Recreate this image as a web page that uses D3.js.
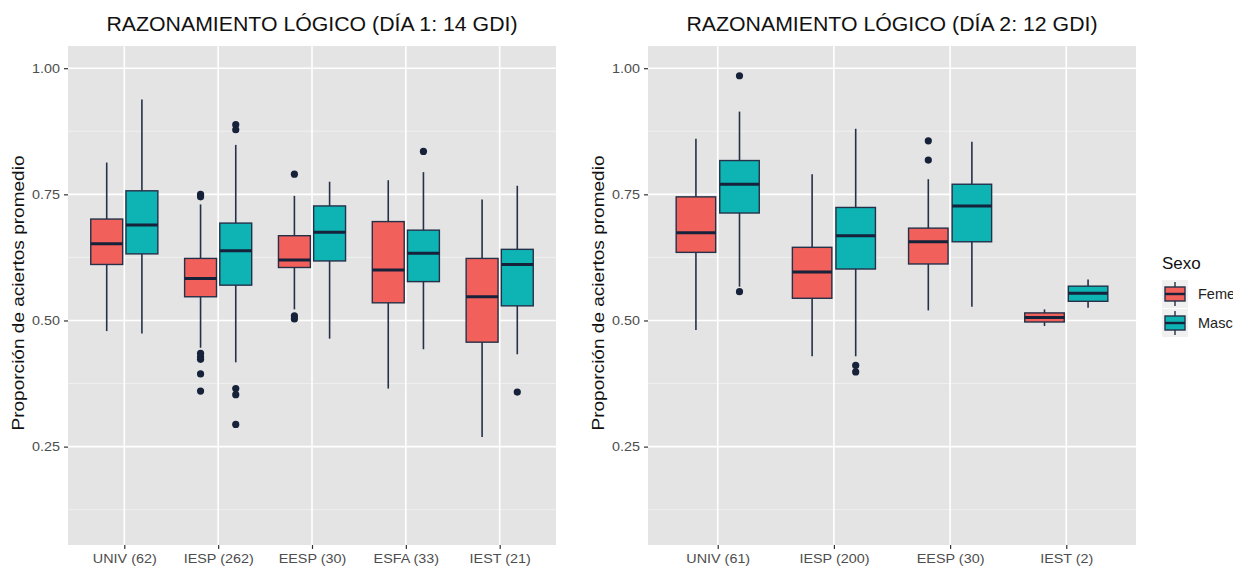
<!DOCTYPE html>
<html>
<head>
<meta charset="utf-8">
<script src="https://cdn.jsdelivr.net/npm/d3@7"></script>
<style>
  body { margin: 0; background: #fff; font-family: "Liberation Sans", Arial, sans-serif; }
  .tick text { fill: #4d4d4d; font-size: 12.5px; }
</style>
</head>
<body>
<div id="chart"></div>
<script>
// Data: [whisker low, Q1, median, Q3, whisker high]
const day1Categories = ['UNIV (62)', 'IESP (262)', 'EESP (30)', 'ESFA (33)', 'IEST (21)']
const day1Fem = [
  [0.479, 0.611, 0.652, 0.701, 0.813],
  [0.446, 0.547, 0.583, 0.623, 0.730],
  [0.522, 0.605, 0.620, 0.668, 0.747],
  [0.365, 0.535, 0.600, 0.696, 0.778],
  [0.269, 0.457, 0.547, 0.623, 0.740]
]
const day1Masc = [
  [0.474, 0.632, 0.689, 0.757, 0.938],
  [0.417, 0.570, 0.638, 0.693, 0.848],
  [0.464, 0.618, 0.675, 0.727, 0.775],
  [0.443, 0.577, 0.633, 0.679, 0.794],
  [0.433, 0.529, 0.611, 0.641, 0.767]
]
const day1FemOutliers = [[], [0.750, 0.745, 0.435, 0.428, 0.423, 0.394, 0.360], [0.790, 0.509, 0.503], [], []]
const day1MascOutliers = [[], [0.888, 0.878, 0.365, 0.353, 0.294], [], [0.835], [0.358]]

const day2Categories = ['UNIV (61)', 'IESP (200)', 'EESP (30)', 'IEST (2)']
const day2Fem = [
  [0.481, 0.635, 0.674, 0.745, 0.860],
  [0.429, 0.544, 0.596, 0.645, 0.790],
  [0.520, 0.612, 0.656, 0.683, 0.780],
  [0.489, 0.497, 0.506, 0.515, 0.522]
]
const day2Masc = [
  [0.567, 0.713, 0.770, 0.817, 0.914],
  [0.429, 0.602, 0.668, 0.724, 0.880],
  [0.527, 0.656, 0.727, 0.770, 0.854],
  [0.525, 0.538, 0.554, 0.568, 0.581]
]
const day2FemOutliers = [[], [], [0.856, 0.818], []]
const day2MascOutliers = [[0.985, 0.557], [0.411, 0.398], [], []]

const yTicks = [0.25, 0.50, 0.75, 1.00]
const yMinor = [0.125, 0.375, 0.625, 0.875]
const sexes = ['Femenino', 'Masculino']
const colors = ['#F1605A', '#0EB3B4']

const W = 1233
const H = 569
const outline = '#243149'

const svg = d3.select('#chart').append('svg')
  .attr('width', W)
  .attr('height', H)

const y = d3.scaleLinear()
  .domain([0.055, 1.044])
  .range([545, 46])

function drawPanel(left, right, title, categories, fem, masc, femOut, mascOut) {
  const g = svg.append('g')

  const x = d3.scalePoint()
    .domain(categories)
    .range([left, right])
    .padding(0.6)
  const step = x.step()

  // Panel background
  g.append('rect')
    .attr('x', left)
    .attr('y', y.range()[1])
    .attr('width', right - left)
    .attr('height', y.range()[0] - y.range()[1])
    .attr('fill', '#e4e4e4')

  // Grid lines
  g.selectAll('.minor')
    .data(yMinor)
    .enter()
    .append('line')
    .attr('x1', left).attr('x2', right)
    .attr('y1', d => y(d)).attr('y2', d => y(d))
    .attr('stroke', '#f3f3f3')
    .attr('stroke-width', 0.8)

  g.selectAll('.major')
    .data(yTicks)
    .enter()
    .append('line')
    .attr('x1', left).attr('x2', right)
    .attr('y1', d => y(d)).attr('y2', d => y(d))
    .attr('stroke', '#fff')
    .attr('stroke-width', 1.6)

  g.selectAll('.vgrid')
    .data(categories)
    .enter()
    .append('line')
    .attr('x1', d => x(d)).attr('x2', d => x(d))
    .attr('y1', y.range()[0]).attr('y2', y.range()[1])
    .attr('stroke', '#fff')
    .attr('stroke-width', 1.6)

  // Axes
  const yAxis = d3.axisLeft(y)
    .tickValues(yTicks)
    .tickFormat(d3.format('.2f'))
    .tickSize(4)
    .tickPadding(3)
  g.append('g')
    .attr('transform', `translate(${left}, 0)`)
    .call(yAxis)
    .call(a => a.select('.domain').remove())
    .call(a => a.selectAll('.tick line').attr('stroke', '#333').attr('stroke-width', 1.2))
    .call(a => a.selectAll('.tick text').attr('transform', 'scale(1.15, 1)'))

  const xAxis = d3.axisBottom(x)
    .tickSize(4)
    .tickPadding(5)
  g.append('g')
    .attr('transform', `translate(0, ${y.range()[0]})`)
    .call(xAxis)
    .call(a => a.select('.domain').remove())
    .call(a => a.selectAll('.tick line').attr('stroke', '#333').attr('stroke-width', 1.2))
    .call(a => a.selectAll('.tick text').attr('transform', 'scale(1.15, 1)'))

  // Boxes
  const offset = step * 0.1875
  const boxW = step * 0.34
  const groups = [fem, masc]
  const outs = [femOut, mascOut]

  groups.forEach((series, s) => {
    series.forEach((d, i) => {
      const cx = x(categories[i]) + (s === 0 ? -offset : offset)
      const bg = g.append('g')

      bg.append('line')
        .attr('x1', cx).attr('x2', cx)
        .attr('y1', y(d[0])).attr('y2', y(d[4]))
        .attr('stroke', outline)
        .attr('stroke-width', 1.6)

      bg.append('rect')
        .attr('x', cx - boxW / 2)
        .attr('y', y(d[3]))
        .attr('width', boxW)
        .attr('height', y(d[1]) - y(d[3]))
        .attr('fill', colors[s])
        .attr('stroke', outline)
        .attr('stroke-width', 1.4)

      bg.append('line')
        .attr('x1', cx - boxW / 2).attr('x2', cx + boxW / 2)
        .attr('y1', y(d[2])).attr('y2', y(d[2]))
        .attr('stroke', '#16213a')
        .attr('stroke-width', 3)

      bg.selectAll('circle')
        .data(outs[s][i])
        .enter()
        .append('circle')
        .attr('cx', cx)
        .attr('cy', v => y(v))
        .attr('r', 3.6)
        .attr('fill', '#16213a')
    })
  })

  // Title
  svg.append('text')
    .attr('x', (left + right) / 2 - 411 / 2)
    .attr('y', 31)
    .attr('textLength', 411)
    .attr('lengthAdjust', 'spacingAndGlyphs')
    .style('font-size', '20px')
    .style('fill', '#111')
    .text(title)

  // Y label
  const midY = (y.range()[0] + y.range()[1]) / 2 - 2
  svg.append('text')
    .attr('transform', `translate(${left - 44}, ${midY + 137}) rotate(-90)`)
    .attr('textLength', 275)
    .attr('lengthAdjust', 'spacingAndGlyphs')
    .style('font-size', '17px')
    .style('fill', '#111')
    .text('Proporción de aciertos promedio')
}

drawPanel(68, 556, 'RAZONAMIENTO LÓGICO (DÍA 1: 14 GDI)', day1Categories, day1Fem, day1Masc, day1FemOutliers, day1MascOutliers)
drawPanel(648, 1136, 'RAZONAMIENTO LÓGICO (DÍA 2: 12 GDI)', day2Categories, day2Fem, day2Masc, day2FemOutliers, day2MascOutliers)

// Legend
const legend = svg.append('g')
  .attr('transform', 'translate(1162, 269)')

legend.append('text')
  .attr('x', 0)
  .attr('y', 0)
  .style('font-size', '17px')
  .style('fill', '#111')
  .text('Sexo')

sexes.forEach((s, i) => {
  const ky = 11 + i * 29
  const k = legend.append('g')
    .attr('transform', `translate(0, ${ky})`)
  k.append('rect')
    .attr('width', 26).attr('height', 28)
    .attr('fill', '#f0f0f0')
  k.append('line')
    .attr('x1', 13).attr('x2', 13)
    .attr('y1', 2).attr('y2', 26)
    .attr('stroke', outline)
    .attr('stroke-width', 1.4)
  k.append('rect')
    .attr('x', 3).attr('y', 7)
    .attr('width', 20).attr('height', 14)
    .attr('fill', colors[i])
    .attr('stroke', outline)
    .attr('stroke-width', 1.4)
  k.append('line')
    .attr('x1', 3).attr('x2', 23)
    .attr('y1', 14).attr('y2', 14)
    .attr('stroke', '#16213a')
    .attr('stroke-width', 2.4)
  k.append('text')
    .attr('x', 36)
    .attr('y', 19)
    .style('font-size', '14.5px')
    .style('fill', '#222')
    .text(s)
})
</script>
</body>
</html>
